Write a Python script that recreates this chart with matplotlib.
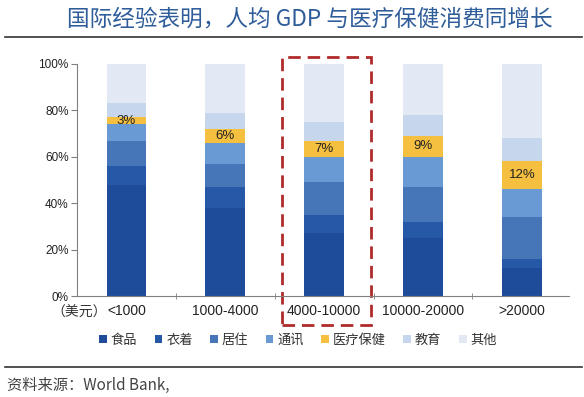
import matplotlib.pyplot as plt
import matplotlib.patches as patches
import numpy as np

plt.rcParams['font.family'] = ['Noto Sans CJK SC', 'DejaVu Sans']

# income groups (USD per capita) and spending shares (%)
groups = ['<1000', '1000-4000', '4000-10000', '10000-20000', '>20000']
categories = ['食品', '衣着', '居住', '通讯', '医疗保健', '教育', '其他']
food = [48, 38, 27, 25, 12]
clothing = [8, 9, 8, 7, 4]
housing = [11, 10, 14, 15, 18]
telecom = [7, 9, 11, 13, 12]
medical = [3, 6, 7, 9, 12]
education = [6, 7, 8, 9, 10]
other = [17, 21, 25, 22, 32]
highlight = 2  # 4000-10000 is boxed

colors = ['#1f4c9a', '#2559a8', '#4675b8', '#6a9ad3', '#f5c040', '#c6d6ec', '#e2e9f4']
series = [food, clothing, housing, telecom, medical, education, other]

fig = plt.figure(figsize=(5.84, 3.97), dpi=100)
ax = fig.add_axes([0.1318, 0.2544, 0.843, 0.5844])

x = np.arange(len(groups))
bottom = np.zeros(len(groups))
for vals, name, c in zip(series, categories, colors):
    v = np.array(vals) / 100
    ax.bar(x, v, 0.4, bottom=bottom, color=c, label=name)
    if name == '医疗保健':
        for xi, b, h, val in zip(x, bottom, v, vals):
            ax.text(xi, b + h / 2, f'{val}%', ha='center', va='center',
                    fontsize=9.5, color='#222222', family=['Liberation Sans'])
    bottom += v

ax.set_xlim(-0.5, 4.48)
ax.set_ylim(0, 1)
ax.set_yticks(np.arange(0, 1.01, 0.2))
ax.set_yticklabels([f'{int(t * 100)}%' for t in np.arange(0, 1.01, 0.2)],
                   family=['Liberation Sans'], fontsize=8.5, color='#222222')
ax.set_xticks(x)
ax.set_xticklabels(groups, family=['Liberation Sans'], fontsize=10, color='#222222')
ax.set_xticks(x[:-1] + 0.5, minor=True)
ax.tick_params(axis='x', which='major', length=0, pad=6)
ax.tick_params(axis='x', which='minor', length=4, direction='inout', color='#808080')
ax.tick_params(axis='y', length=4, color='#808080', pad=2)
for s in ['top', 'right']:
    ax.spines[s].set_visible(False)
for s in ['left', 'bottom']:
    ax.spines[s].set_color('#808080')

ax.text(-0.2, -0.072, '（美元）', transform=ax.get_xaxis_transform(),
        ha='right', va='center', fontsize=10, color='#333333')

# dashed highlight box around the 4000-10000 group
box = patches.Rectangle((highlight - 0.43, -0.125), 0.9, 1.155,
                        transform=ax.transData, fill=False, edgecolor='#b02a2a',
                        linewidth=2, linestyle=(0, (4.5, 2.5)), clip_on=False)
ax.add_patch(box)

leg = ax.legend(loc='upper center', ncol=7, frameon=False,
                fontsize=9.5, handlelength=0.6, handleheight=0.6, handletextpad=0.3,
                columnspacing=1.3, labelcolor='#333333')
leg.set_bbox_to_anchor((298 / 584, 1 - 322 / 397), transform=fig.transFigure)

fig.text(0.53, 0.952, '国际经验表明，人均 GDP 与医疗保健消费同增长', ha='center', va='center',
         fontsize=16.3, color='#2f5d9a')
fig.add_artist(plt.Line2D([0.009, 0.997], [0.908, 0.908], color='#333333', linewidth=1.2))
fig.add_artist(plt.Line2D([0.009, 0.997], [0.076, 0.076], color='#333333', linewidth=1.2))
fig.text(0.012, 0.03, '资料来源：World Bank,', ha='left', va='center',
         fontsize=11, color='#444444')

fig.savefig('out.png', dpi=100)
